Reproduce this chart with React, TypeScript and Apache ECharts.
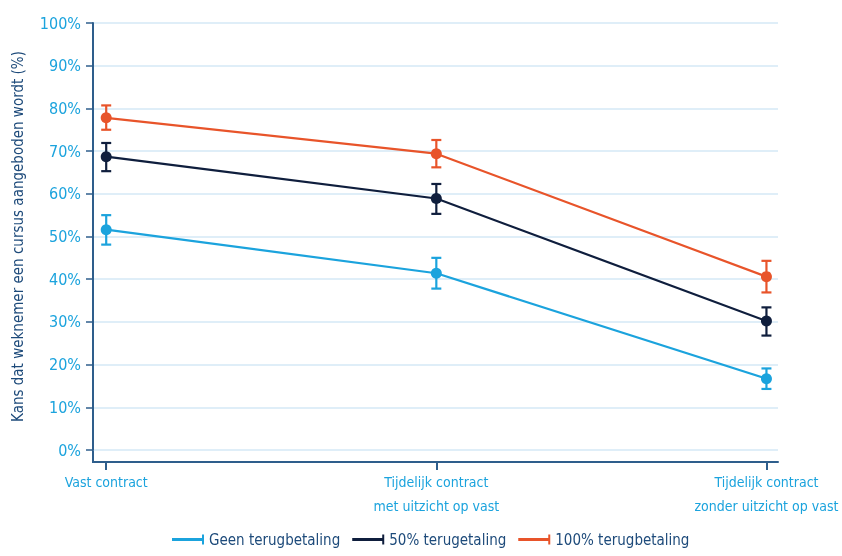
import React, { useEffect, useRef } from "react";
import * as echarts from "echarts";

const categories = ["Vast contract", "Tijdelijk contract\nmet uitzicht op vast", "Tijdelijk contract\nzonder uitzicht op vast"];
const seriesNames = ["Geen terugbetaling", "50% terugetaling", "100% terugbetaling"];
const seriesColors = ["#1BA3DD", "#0F1E3D", "#E8542A"];
const meanGeen = [51.6, 41.4, 16.7];
const lowGeen = [48.1, 37.8, 14.3];
const highGeen = [55.0, 45.0, 19.1];
const mean50 = [68.7, 58.9, 30.2];
const low50 = [65.3, 55.3, 26.8];
const high50 = [71.9, 62.3, 33.4];
const mean100 = [77.8, 69.4, 40.6];
const low100 = [75.0, 66.2, 36.9];
const high100 = [80.7, 72.6, 44.3];
const yTicks = [0, 10, 20, 30, 40, 50, 60, 70, 80, 90, 100];

const FONT = "'Liberation Sans Narrow', 'DejaVu Sans Condensed', 'Roboto Condensed', sans-serif";
const AXIS_COLOR = "#2E5E8C";
const LABEL_COLOR = "#1BA3DD";
const TEXT_NAVY = "#1D4A7A";

const legendIcon = "path://M0,3.5L30,3.5L30,0L32,0L32,10L30,10L30,6.5L0,6.5Z";

export default function App() {
  const ref = useRef<HTMLDivElement>(null);
  useEffect(() => {
    document.body.style.margin = "0";
    document.body.style.overflow = "hidden";
    const chart = echarts.init(ref.current!, null, { renderer: "svg" });
    const means = [meanGeen, mean50, mean100];
    const lows = [lowGeen, low50, low100];
    const highs = [highGeen, high50, high100];
    const series: any[] = [];
    means.forEach((m, i) => {
      series.push({
        type: "custom",
        name: seriesNames[i],
        z: 2,
        data: m.map((_, j) => [j, lows[i][j], highs[i][j]]),
        renderItem: (params: any, api: any) => {
          const x = api.value(0);
          const pLo = api.coord([x, api.value(1)]);
          const pHi = api.coord([x, api.value(2)]);
          const hw = 5;
          const st = { stroke: seriesColors[i], lineWidth: 2.2 };
          return {
            type: "group",
            children: [
              { type: "line", shape: { x1: pLo[0], y1: pLo[1], x2: pHi[0], y2: pHi[1] }, style: st },
              { type: "line", shape: { x1: pHi[0] - hw, y1: pHi[1], x2: pHi[0] + hw, y2: pHi[1] }, style: st },
              { type: "line", shape: { x1: pLo[0] - hw, y1: pLo[1], x2: pLo[0] + hw, y2: pLo[1] }, style: st },
            ],
          };
        },
      });
      series.push({
        type: "line",
        name: seriesNames[i],
        z: 3,
        data: m.map((v, j) => [j, v]),
        symbol: "circle",
        symbolSize: 11,
        lineStyle: { color: seriesColors[i], width: 2.2 },
        itemStyle: { color: seriesColors[i] },
      });
    });

    chart.setOption({
      animation: false,
      textStyle: { fontFamily: FONT },
      grid: { left: 93, right: 64, top: 23, bottom: 106, containLabel: false, outerBoundsMode: "none" },
      legend: {
        bottom: 4,
        left: 167,
        itemWidth: 32,
        itemHeight: 10,
        itemGap: 12,
        data: seriesNames.map((n, i) => ({ name: n, icon: legendIcon, itemStyle: { color: seriesColors[i] } })),
        textStyle: { fontFamily: FONT, fontSize: 15, color: TEXT_NAVY },
      },
      xAxis: {
        type: "value",
        min: -0.04,
        max: 2.035,
        offset: 12,
        axisLine: { show: true, onZero: false, lineStyle: { color: AXIS_COLOR, width: 2 } },
        axisTick: { show: true, customValues: [0, 1, 2], length: 8, lineStyle: { color: AXIS_COLOR, width: 2 } },
        axisLabel: {
          customValues: [0, 1, 2],
          formatter: (v: number) => categories[Math.round(v)],
          color: LABEL_COLOR,
          fontFamily: FONT,
          fontSize: 14,
          lineHeight: 24,
          margin: 8,
        },
        splitLine: { show: false },
      },
      yAxis: {
        type: "value",
        min: 0,
        max: 100,
        interval: 10,
        name: "Kans dat weknemer een cursus aangeboden wordt (%)",
        nameLocation: "middle",
        nameGap: 68,
        nameTextStyle: { color: TEXT_NAVY, fontFamily: FONT, fontSize: 15 },
        axisLine: { show: true, onZero: false, lineStyle: { color: AXIS_COLOR, width: 2 } },
        axisTick: { show: true, length: 7, lineStyle: { color: AXIS_COLOR, width: 1.5 } },
        axisLabel: {
          formatter: (v: number) => (yTicks.includes(v) ? v + "%" : ""),
          color: LABEL_COLOR,
          fontFamily: FONT,
          fontSize: 16,
          margin: 12,
        },
        splitLine: { show: true, lineStyle: { color: "#D5E8F6", width: 1.5 } },
      },
      graphic: [
        {
          type: "line",
          shape: { x1: 93, y1: 449, x2: 93, y2: 463 },
          style: { stroke: AXIS_COLOR, lineWidth: 2 },
        },
      ],
      series,
    });
    return () => chart.dispose();
  }, []);
  return <div ref={ref} style={{ position: "fixed", left: 0, top: 0, width: 842, height: 556 }} />;
}
